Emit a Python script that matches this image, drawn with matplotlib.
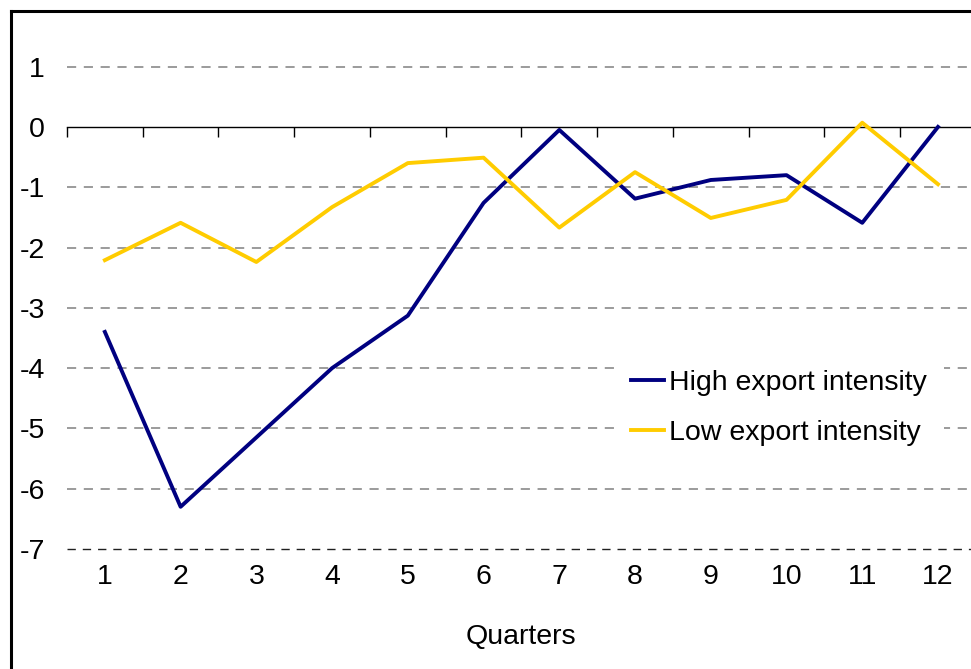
import matplotlib
matplotlib.use('Agg')
import matplotlib.pyplot as plt
from matplotlib.lines import Line2D
import matplotlib.transforms as mtransforms

plt.rcParams['font.family'] = ['Liberation Sans', 'DejaVu Sans']

# data
quarters = [1, 2, 3, 4, 5, 6, 7, 8, 9, 10, 11, 12]
high_export = [-3.40, -6.30, -5.15, -4.00, -3.13, -1.26, -0.05, -1.19, -0.88, -0.80, -1.59, 0.00]
low_export = [-2.21, -1.59, -2.24, -1.33, -0.60, -0.51, -1.67, -0.75, -1.51, -1.21, 0.07, -0.95]
y_ticks = [1, 0, -1, -2, -3, -4, -5, -6, -7]

FS = 20.5

fig = plt.figure(figsize=(9.71, 6.69), dpi=100)
ax = fig.add_axes([0.069, 0.1794, 0.936, 0.7931])

# dashed grid lines, solid zero line
for v in y_ticks:
    if v == -7:
        ax.axhline(v, color='#202020', lw=1, ls=(0, (6, 5)), zorder=1, clip_on=False)
    elif v != 0:
        ax.axhline(v, color='#808080', lw=1.1, ls=(0, (6, 5)), zorder=1)

ax.plot(quarters, high_export, color='#000080', lw=2.8, label='High export intensity',
        zorder=3)
ax.plot(quarters, low_export, color='#FFCC00', lw=2.8, label='Low export intensity',
        zorder=3)

ax.set_xlim(0.5, 12.5)
ax.set_ylim(-7, 1.8)

for s in ['top', 'right', 'left']:
    ax.spines[s].set_visible(False)
ax.spines['bottom'].set_position(('data', 0))
ax.spines['bottom'].set_linewidth(1)
ax.spines['bottom'].set_zorder(2)

ax.set_xticks([q - 0.5 for q in quarters] + [12.5])
ax.set_xticklabels([])
ax.tick_params(axis='x', direction='out', length=7, width=1)

ax.set_yticks(y_ticks)
ax.set_yticklabels([str(v) for v in y_ticks], fontsize=FS)
ax.tick_params(axis='y', length=0, pad=16)

trans = mtransforms.blended_transform_factory(ax.transData, ax.transAxes)
for q in quarters:
    ax.text(q, -0.053, str(q), transform=trans, ha='center', va='center', fontsize=FS)
ax.text(0.5, -0.165, 'Quarters', transform=ax.transAxes, ha='center', va='center', fontsize=FS)

leg = ax.legend(loc='upper left', bbox_to_anchor=(614 / 971, 1 - 353 / 669),
                bbox_transform=fig.transFigure, frameon=True, fancybox=False,
                facecolor='white', edgecolor='none', framealpha=1, fontsize=FS,
                handlelength=1.15, handletextpad=0.18, labelspacing=0.85, borderpad=0.6,
                borderaxespad=0)
leg.set_zorder(4)

# outer border (left and top visible, rest cropped)
fig.add_artist(Line2D([11 / 971, 11 / 971], [0, 1 - 11 / 669], color='black', lw=2.2,
                      transform=fig.transFigure))
fig.add_artist(Line2D([11 / 971, 1], [1 - 11 / 669, 1 - 11 / 669], color='black', lw=2.2,
                      transform=fig.transFigure))

fig.savefig('out.png', dpi=100)
